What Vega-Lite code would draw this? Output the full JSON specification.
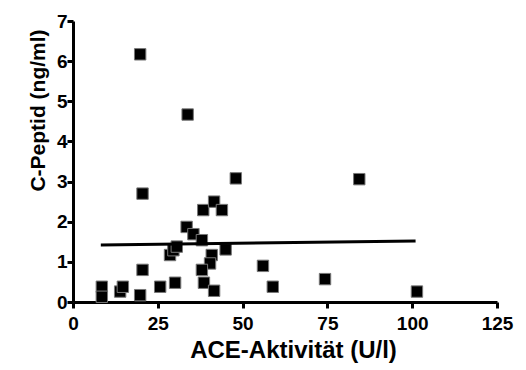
{
  "$schema": "https://vega.github.io/schema/vega-lite/v6.json",
  "width": 424,
  "height": 281,
  "autosize": {"type": "none"},
  "padding": {"left": 73, "top": 21, "right": 29, "bottom": 68},
  "background": "white",
  "config": {
    "view": {"stroke": null},
    "font": "Liberation Sans",
    "axis": {
      "grid": false,
      "domainColor": "black",
      "domainWidth": 3,
      "tickColor": "black",
      "tickWidth": 3,
      "tickSize": 6,
      "labelFlush": false,
      "labelFont": "Liberation Sans",
      "labelFontWeight": "bold",
      "labelFontSize": 19,
      "labelColor": "black",
      "titleFont": "Liberation Sans",
      "titleColor": "black"
    }
  },
  "layer": [
    {
      "data": {"values": [
        {"ace": 8.5, "cpep": 0.38},
        {"ace": 8.5, "cpep": 0.13},
        {"ace": 13.9, "cpep": 0.26},
        {"ace": 14.7, "cpep": 0.38},
        {"ace": 20.5, "cpep": 2.7},
        {"ace": 20.5, "cpep": 0.8},
        {"ace": 19.8, "cpep": 0.17},
        {"ace": 25.7, "cpep": 0.38},
        {"ace": 30.1, "cpep": 0.48},
        {"ace": 28.6, "cpep": 1.17},
        {"ace": 29.6, "cpep": 1.29},
        {"ace": 30.6, "cpep": 1.38},
        {"ace": 33.5, "cpep": 1.87},
        {"ace": 35.5, "cpep": 1.69},
        {"ace": 38.0, "cpep": 1.54},
        {"ace": 38.4, "cpep": 2.29},
        {"ace": 41.6, "cpep": 2.5},
        {"ace": 43.9, "cpep": 2.29},
        {"ace": 40.9, "cpep": 1.17},
        {"ace": 40.4, "cpep": 0.96},
        {"ace": 38.0, "cpep": 0.8},
        {"ace": 38.6, "cpep": 0.48},
        {"ace": 41.6, "cpep": 0.28},
        {"ace": 45.0, "cpep": 1.31},
        {"ace": 48.0, "cpep": 3.08},
        {"ace": 56.0, "cpep": 0.9},
        {"ace": 58.9, "cpep": 0.38},
        {"ace": 19.8, "cpep": 6.17},
        {"ace": 33.8, "cpep": 4.67},
        {"ace": 84.4, "cpep": 3.06},
        {"ace": 74.3, "cpep": 0.57},
        {"ace": 101.4, "cpep": 0.26}
      ]},
      "mark": {"type": "point", "shape": "square", "filled": true, "size": 130, "color": "black", "stroke": "#777777", "strokeWidth": 1, "opacity": 1, "clip": false},
      "encoding": {
        "x": {"field": "ace", "type": "quantitative", "scale": {"domain": [0, 125], "nice": false, "zero": false},
          "axis": {"values": [0, 25, 50, 75, 100, 125], "title": "ACE-Aktivität (U/l)", "titleFontSize": 24, "titleFontWeight": "bold", "titlePadding": 5, "titleX": 220, "labelPadding": 6}},
        "y": {"field": "cpep", "type": "quantitative", "scale": {"domain": [0, 7], "nice": false},
          "axis": {"values": [0, 1, 2, 3, 4, 5, 6, 7], "title": "C-Peptid (ng/ml)", "titleFontSize": 21, "titleFontWeight": "bold", "titlePadding": 8, "titleY": 89, "labelPadding": 0}}
      }
    },
    {
      "data": {"values": [
        {"ace": 8.2, "cpep": 1.42},
        {"ace": 101, "cpep": 1.52}
      ]},
      "mark": {"type": "line", "color": "black", "strokeWidth": 3},
      "encoding": {
        "x": {"field": "ace", "type": "quantitative"},
        "y": {"field": "cpep", "type": "quantitative"}
      }
    }
  ]
}
